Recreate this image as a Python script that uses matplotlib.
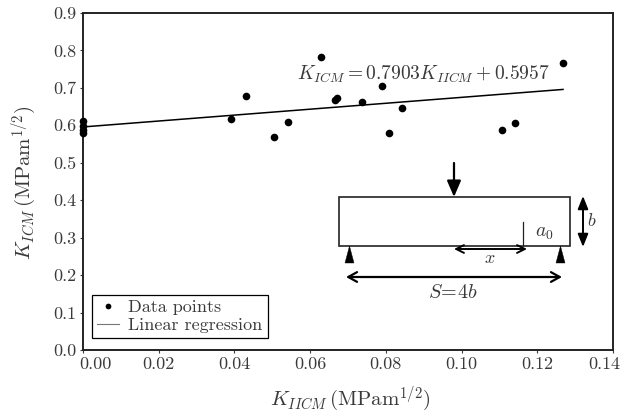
import matplotlib
matplotlib.use('Agg')
import matplotlib.pyplot as plt
from matplotlib.patches import Rectangle, Polygon
from matplotlib.transforms import ScaledTranslation

plt.rcParams['font.family'] = 'cmr10'
plt.rcParams['mathtext.fontset'] = 'cm'
plt.rcParams['axes.unicode_minus'] = False
plt.rcParams['axes.formatter.use_mathtext'] = True

# values
k2 = [0.0, 0.0, 0.0, 0.0, 0.0391, 0.0431, 0.0504, 0.0541, 0.0629, 0.0666, 0.0671,
      0.0737, 0.0790, 0.0843, 0.0808, 0.1107, 0.1141, 0.1268]
k1 = [0.612, 0.598, 0.588, 0.580, 0.617, 0.678, 0.569, 0.609, 0.783, 0.668, 0.672,
      0.662, 0.706, 0.646, 0.580, 0.588, 0.605, 0.767]
fit_x = [0.0, 0.1268]
fit_y = [0.5957, 0.6959]
xticks = [0.00, 0.02, 0.04, 0.06, 0.08, 0.10, 0.12, 0.14]
yticks = [0.0, 0.1, 0.2, 0.3, 0.4, 0.5, 0.6, 0.7, 0.8, 0.9]

W, H = 623, 416
ink = '#3a3a3a'

fig = plt.figure(figsize=(W / 100, H / 100), dpi=100)
ax = fig.add_axes([83 / W, 1 - 350 / H, 530 / W, 337 / H])
ax.plot(k2, k1, 'o', color='k', ms=5.5, mew=0, clip_on=False, zorder=3, label='Data points')
ax.plot(fit_x, fit_y, '-', color='k', lw=1.1, label='Linear regression')
ax.set_xlim(0, 0.14)
ax.set_ylim(0, 0.9)
ax.set_xticks(xticks)
ax.set_xticklabels(['%.2f' % v for v in xticks])
ax.set_yticks(yticks)
ax.set_yticklabels(['%.1f' % v for v in yticks])
ax.tick_params(length=2, width=0.8, labelsize=13, colors=ink, pad=3)
for s in ax.spines.values():
    s.set_linewidth(1.4)
    s.set_color('#222222')

# first and last x labels sit inward of their ticks in the original
xlabels = ax.get_xticklabels()
xlabels[0].set_transform(xlabels[0].get_transform() + ScaledTranslation(12 / 100, 0, fig.dpi_scale_trans))
xlabels[-1].set_transform(xlabels[-1].get_transform() + ScaledTranslation(-9 / 100, 0, fig.dpi_scale_trans))

leg = ax.legend(loc='lower left', bbox_to_anchor=(0.017, 0.036), borderaxespad=0,
                fontsize=13, fancybox=False, framealpha=1, edgecolor='k',
                handlelength=1.25, handletextpad=0.5, labelspacing=0.12,
                borderpad=0.27, labelcolor=ink, markerscale=0.75)
leg.get_frame().set_linewidth(0.9)
leg.get_lines()[1].set_color('#777777')
leg.get_lines()[1].set_linewidth(0.8)

# overlay in pixel coords for the labels and the beam sketch
ov = fig.add_axes([0, 0, 1, 1])
ov.set_xlim(0, W)
ov.set_ylim(H, 0)
ov.axis('off')
ov.patch.set_alpha(0)

ov.text(350, 399, r'$K_{IICM}\,(\mathrm{MPam}^{1/2})$', fontsize=15, color=ink,
        ha='center', va='center')
ov.text(24, 183, r'$K_{ICM}\,(\mathrm{MPam}^{1/2})$', fontsize=15, color=ink,
        ha='center', va='center', rotation=90)
ov.text(423, 74, r'$K_{ICM}=0.7903K_{IICM}+0.5957$', fontsize=14, color=ink,
        ha='center', va='center')

# beam
ov.add_patch(Rectangle((339, 197), 231, 49, fill=False, ec='#222222', lw=1.2))
ov.plot([523, 523], [222, 246], color='#222222', lw=0.9)
ov.add_patch(Polygon([[345, 263], [354, 263], [349.5, 246]], fc='k', ec='k', lw=0.3))
ov.add_patch(Polygon([[556, 263], [565, 263], [560.5, 246]], fc='k', ec='k', lw=0.3))


def arrow(x0, y0, x1, y1, style, lw):
    ov.annotate('', xy=(x1, y1), xytext=(x0, y0),
                arrowprops=dict(arrowstyle=style, color='k', lw=lw,
                                shrinkA=0, shrinkB=0, mutation_scale=14))


arrow(454, 163, 454, 197, '-|>,head_width=0.3,head_length=0.7', 1.6)
arrow(583, 196, 583, 247, '<|-|>,head_width=0.22,head_length=0.55', 1.4)
arrow(454, 249, 527, 249, '<->,head_width=0.2,head_length=0.4', 1.4)
arrow(346, 277, 562, 277, '<->,head_width=0.25,head_length=0.45', 1.6)

ov.text(544, 233, r'$a_0$', fontsize=14, color=ink, ha='center', va='center')
ov.text(592, 221, r'$b$', fontsize=13, color=ink, ha='center', va='center')
ov.text(490, 258, r'$x$', fontsize=13, color=ink, ha='center', va='center')
ov.text(453, 293, r'$S\!=\!4b$', fontsize=14.5, color=ink, ha='center', va='center')

fig.savefig('out.png', dpi=100)
